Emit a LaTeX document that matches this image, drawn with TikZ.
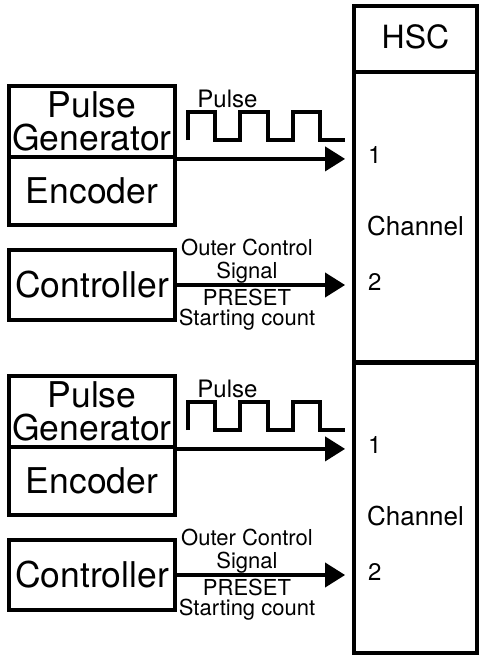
\documentclass[tikz,border=0pt]{standalone}
\usepackage{fontspec}
\setmainfont{TeX Gyre Heros}
\usetikzlibrary{arrows.meta,positioning}

\begin{document}
\begin{tikzpicture}[
    x=1pt, y=-1pt,
    box/.style={draw, line width=3.8pt, inner sep=0pt, minimum width=166pt, align=center,
        font=\fontsize{35.5}{33}\selectfont},
    chbox/.style={draw, line width=3.8pt, inner sep=0pt, minimum width=123pt},
    sig/.style={line width=3.8pt, -{Triangle[length=20pt,width=24pt]}, shorten >=7pt},
    wave/.style={line width=3.8pt},
    lbl/.style={anchor=base, inner sep=0pt, font=\fontsize{22}{22}\selectfont},
    pin/.style={anchor=base west, inner sep=0pt, font=\fontsize{24}{24}\selectfont}
]
    \useasboundingbox (0,0) rectangle (485,659);

    % HSC header
    \node[chbox, minimum height=66pt] (hsc) at (415.5,39) {};
    \node[anchor=base, inner sep=0pt, font=\fontsize{32}{32}\selectfont] (hsctxt) at (415.5,48) {HSC};

    \foreach \k/\dy in {1/0, 2/290} {
    \begin{scope}[yshift=-\dy pt]
        % Channel column
        \node[chbox, minimum height=291pt] (ch\k) at (415.5,217.5) {};
        \node[anchor=base, inner sep=0pt, font=\fontsize{26}{26}\selectfont] (chtxt\k) at (415.5,235) {Channel};
        \node[pin] (pina\k) at (368,163) {1};
        \node[pin] (pinb\k) at (368,290) {2};

        % Sources
        \node[box, minimum height=71pt] (pg\k) at (92,121.5) {Pulse\\Generator};
        \node[box, minimum height=68pt] (enc\k) at (92,191) {Encoder};
        \node[box, minimum height=70pt] (ctl\k) at (92,285) {Controller};

        % Pulse input
        \draw[sig] (pg\k.south east) -- (pg\k.south east -| ch\k.west);
        \draw[wave] (188,140) -- (188,112) -- (215,112) -- (215,140) -- (240,140)
            -- (240,112) -- (268,112) -- (268,140) -- (293,140)
            -- (293,112) -- (320,112) -- (320,140) -- (345,140);
        \node[lbl, font=\fontsize{24}{24}\selectfont] (plbl\k) at (227.5,107) {Pulse};

        % Control input
        \draw[sig] (ctl\k.east) -- (ctl\k.east -| ch\k.west);
        \node[lbl] (olbl\k) at (247,255) {Outer Control};
        \node[lbl] (slbl\k) at (247,278) {Signal};
        \node[lbl] (prlbl\k) at (247,305) {PRESET};
        \node[lbl] (stlbl\k) at (247,325) {Starting count};
    \end{scope}
    }
\end{tikzpicture}
\end{document}
